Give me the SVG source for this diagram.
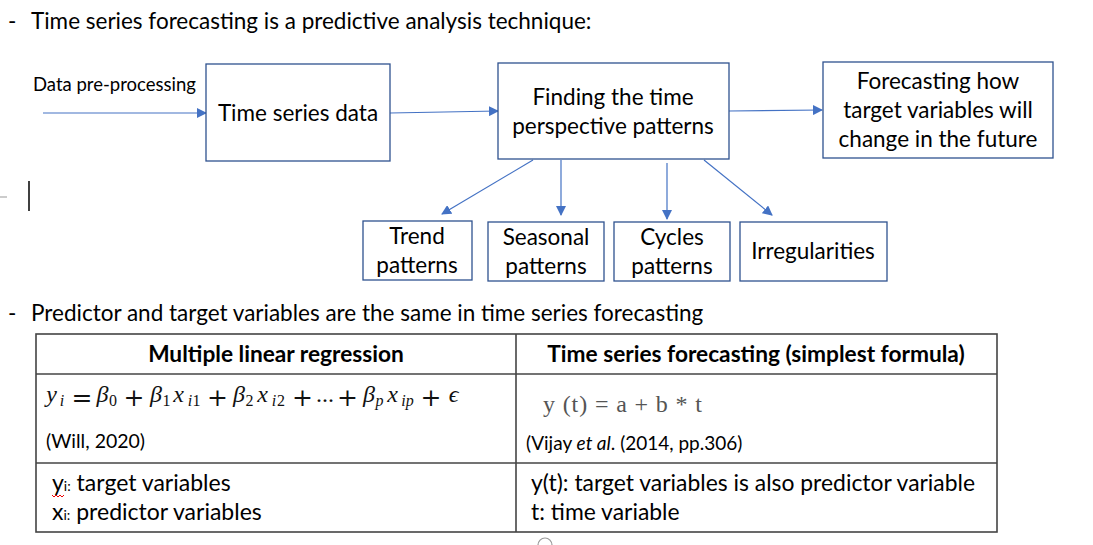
<svg xmlns="http://www.w3.org/2000/svg" width="1093" height="545" viewBox="0 0 1093 545">
<defs>
<marker id="ah" markerWidth="10" markerHeight="10" refX="9" refY="5" orient="auto" markerUnits="userSpaceOnUse" viewBox="0 0 10 10">
<path d="M0,0 L10,5 L0,10 z" fill="#4472C4"/>
</marker>
</defs>
<style>
.t{font-family:Lato,"Open Sans","Liberation Sans",sans-serif;fill:#000}
.n{font-size:22.5px;text-anchor:middle}
.box{fill:#fff;stroke:#2F528F;stroke-width:1.3}
.c{stroke:#4472C4;stroke-width:1.2;fill:none;marker-end:url(#ah)}
.grid{stroke:#444;stroke-width:1.6;fill:none}
.m{font-family:"Liberation Serif","DejaVu Serif",serif;font-style:italic;font-size:24px;fill:#111;text-anchor:middle}
.r{font-style:normal}
.s{font-size:16px}
.o{font-family:"DejaVu Serif",serif;font-style:normal;font-size:25px}
</style>
<rect width="1093" height="545" fill="#fff"/>

<text class="t" x="8" y="29" font-size="22.5">-</text>
<text class="t" x="31" y="29" font-size="22.5">Time series forecasting is a predictive analysis technique:</text>

<text class="t" x="33" y="91" font-size="18.5">Data pre-processing</text>

<g id="connectors">
<line class="c" x1="43" y1="113" x2="206" y2="113"/>
<line class="c" x1="390" y1="113" x2="498" y2="111"/>
<line class="c" x1="729" y1="111" x2="822" y2="110"/>
<line class="c" x1="533" y1="160" x2="442" y2="214"/>
<line class="c" x1="561" y1="160" x2="561" y2="215"/>
<line class="c" x1="667" y1="163" x2="667" y2="219"/>
<line class="c" x1="704" y1="160" x2="772" y2="215"/>
</g>

<g id="n-timeseries">
<rect class="box" x="206" y="64" width="184" height="97"/>
<text class="t n" x="298" y="121">Time series data</text>
</g>
<g id="n-finding">
<rect class="box" x="498" y="63" width="231" height="96"/>
<text class="t n" x="613" y="105">Finding the time</text>
<text class="t n" x="613" y="134">perspective patterns</text>
</g>
<g id="n-forecast">
<rect class="box" x="823" y="62" width="230" height="96"/>
<text class="t n" x="938" y="89">Forecasting how</text>
<text class="t n" x="938" y="118">target variables will</text>
<text class="t n" x="938" y="147">change in the future</text>
</g>
<g id="n-trend">
<rect class="box" x="363" y="221" width="109" height="59"/>
<text class="t n" x="417" y="244">Trend</text>
<text class="t n" x="417" y="273">patterns</text>
</g>
<g id="n-seasonal">
<rect class="box" x="488" y="222" width="116" height="59"/>
<text class="t n" x="546" y="245">Seasonal</text>
<text class="t n" x="546" y="274">patterns</text>
</g>
<g id="n-cycles">
<rect class="box" x="614" y="222" width="116" height="59"/>
<text class="t n" x="672" y="245">Cycles</text>
<text class="t n" x="672" y="274">patterns</text>
</g>
<g id="n-irregular">
<rect class="box" x="740" y="222" width="147" height="59"/>
<text class="t n" x="813" y="259">Irregularities</text>
</g>

<line x1="29" y1="181" x2="29" y2="211" stroke="#000" stroke-width="1.5"/>
<line x1="0" y1="197" x2="7" y2="197" stroke="#aaa" stroke-width="1.2"/>

<text class="t" x="8" y="321" font-size="22.5">-</text>
<text class="t" x="31" y="321" font-size="22.5">Predictor and target variables are the same in time series forecasting</text>

<g id="table">
<rect class="grid" x="36" y="334" width="961" height="198"/>
<line class="grid" x1="516" y1="334" x2="516" y2="532"/>
<line class="grid" x1="36" y1="374" x2="997" y2="374"/>
<line class="grid" x1="36" y1="463" x2="997" y2="463"/>

<text class="t" x="276" y="362" font-size="22.7" font-weight="bold" text-anchor="middle">Multiple linear regression</text>
<text class="t" x="756" y="362" font-size="22.7" font-weight="bold" text-anchor="middle">Time series forecasting (simplest formula)</text>

<text class="m" y="402"><tspan x="51.5">y</tspan><tspan class="s" x="62" y="406">i</tspan><tspan class="o" x="82" y="406">=</tspan><tspan x="102.5" y="402">β</tspan><tspan class="r s" x="113" y="406">0</tspan><tspan class="o" x="134">+</tspan><tspan x="156" y="402">β</tspan><tspan class="r s" x="166.5" y="406">1</tspan><tspan x="178.5" y="402">x</tspan><tspan class="s" x="190" y="406">i</tspan><tspan class="r s" x="196.5">1</tspan><tspan class="o" x="217.5">+</tspan><tspan x="239" y="402">β</tspan><tspan class="r s" x="249.5" y="406">2</tspan><tspan x="262.5" y="402">x</tspan><tspan class="s" x="274" y="406">i</tspan><tspan class="r s" x="281">2</tspan><tspan class="o" x="302.5">+</tspan><tspan class="r" x="325" y="402">...</tspan><tspan class="o" x="347.5" y="406">+</tspan><tspan x="369" y="402">β</tspan><tspan class="s" x="379.5" y="406">p</tspan><tspan x="392.5" y="402">x</tspan><tspan class="s" x="407.5" y="406">ip</tspan><tspan class="o" x="431">+</tspan><tspan x="453.5" y="402">ϵ</tspan></text>
<text class="t" x="46" y="448" font-size="19.5">(Will, 2020)</text>

<text x="543" y="412" font-family="Liberation Serif,serif" font-size="24" fill="#555" textLength="159" lengthAdjust="spacing">y (t) = a + b * t</text>
<text class="t" x="526" y="450" font-size="19">(Vijay <tspan font-style="italic">et al</tspan>. (2014, pp.306)</text>

<text class="t" x="52" y="491" font-size="23">y<tspan font-size="14">i:</tspan> target variables</text>
<path d="M52,495 l2,2 l2,-2 l2,2 l2,-2 l2,2 l2,-2" stroke="#e00" stroke-width="1" fill="none"/>
<text class="t" x="52" y="520" font-size="23">x<tspan font-size="14">i:</tspan> predictor variables</text>

<text class="t" x="531" y="491" font-size="22.9">y(t): target variables is also predictor variable</text>
<text class="t" x="531" y="520" font-size="22.9">t: time variable</text>
</g>
<path d="M538,545 A7,7 0 0 1 552,545" stroke="#999" stroke-width="1.2" fill="none"/>
</svg>
